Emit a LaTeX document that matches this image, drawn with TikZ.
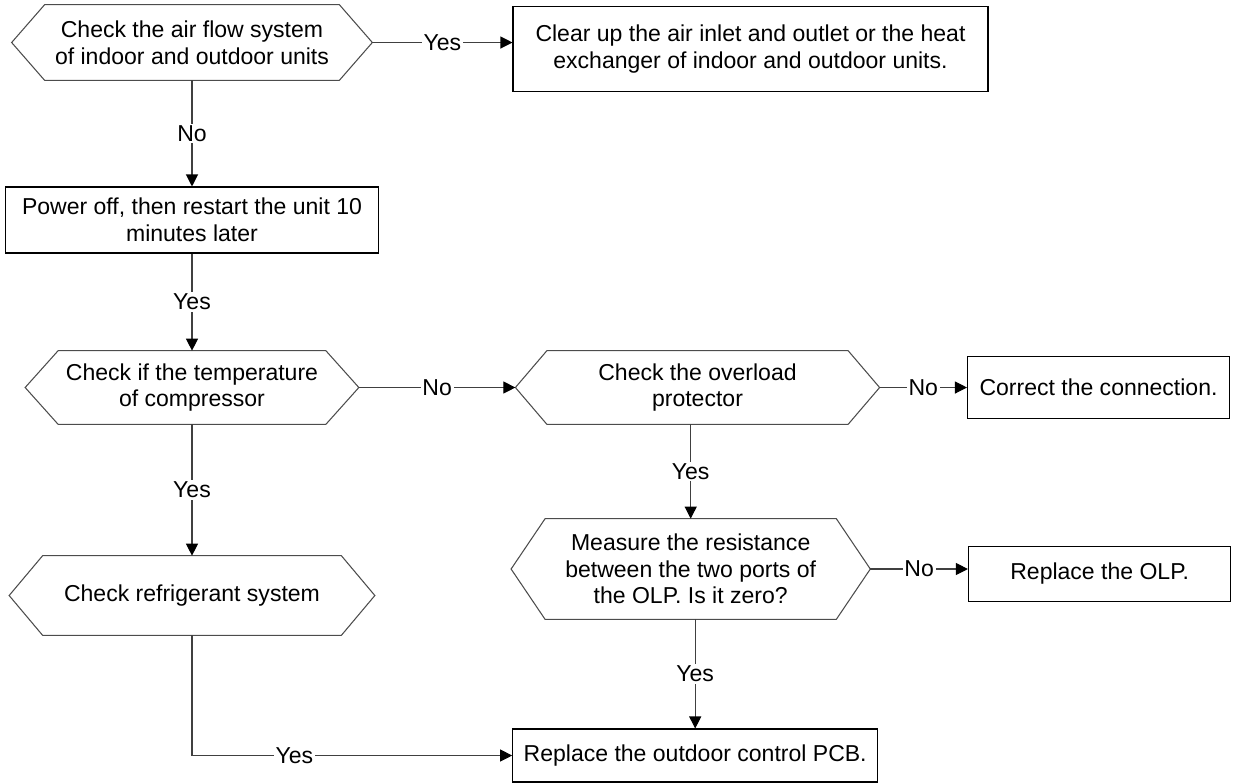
\documentclass[tikz,border=0pt]{standalone}
\usepackage{fontspec}
\setmainfont{Liberation Sans}
\usetikzlibrary{arrows.meta}

\begin{document}
\begin{tikzpicture}[node distance=3.5cm,
    font=\fontsize{13.1}{15.1}\selectfont,
    box/.style={draw=black, line width=0.6pt, align=center, inner sep=2pt},
    check/.style={align=center, inner sep=2pt},
    hexline/.style={draw=black!70, line width=0.6pt, line join=miter},
    flow/.style={draw=black!75, line width=0.6pt,
      -{Triangle[length=0.24cm, width=0.24cm, color=black]}},
    tag/.style={fill=white, inner sep=1pt}]
    \useasboundingbox (-3.84,0.85) rectangle (20.82,-14.81);
    % left column
    \node (airflow) [check, minimum width=7.2cm, minimum height=1.5cm] {Check the air flow system\\of indoor and outdoor units};
    \node (clear) [box, node distance=11.17cm, right of=airflow, yshift=-0.13cm,
      minimum width=9.5cm, minimum height=1.7cm] {Clear up the air inlet and outlet or the heat\\exchanger of indoor and outdoor units.};
    \node (power) [box, node distance=3.55cm, below of=airflow,
      minimum width=7.46cm, minimum height=1.32cm] {Power off, then restart the unit 10\\minutes later};
    \node (temp) [check, node distance=3.35cm, below of=power,
      minimum width=6.66cm, minimum height=1.46cm] {Check if the temperature\\of compressor};
    \node (refrig) [check, node distance=4.16cm, below of=temp,
      minimum width=7.3cm, minimum height=1.58cm] {Check refrigerant system};
    % right part
    \node (overload) [check, node distance=10.11cm, right of=temp,
      minimum width=7.27cm, minimum height=1.46cm] {Check the overload\\protector};
    \node (correct) [box, node distance=8.02cm, right of=overload,
      minimum width=5.24cm, minimum height=1.25cm] {Correct the connection.};
    \node (measure) [check, node distance=3.63cm, below of=overload, xshift=-0.136cm,
      minimum width=7.17cm, minimum height=2cm] {Measure the resistance\\between the two ports of\\the OLP. Is it zero?};
    \node (olp) [box, node distance=8.18cm, right of=measure, yshift=-0.1cm,
      minimum width=5.25cm, minimum height=1.09cm] {Replace the OLP.};
    \node (pcb) [box, node distance=3.73cm, below of=measure, xshift=0.09cm,
      minimum width=7.3cm, minimum height=1.06cm] {Replace the outdoor control PCB.};
    % hexagon outlines of the checks
    \foreach \n/\s in {airflow/0.66, temp/0.66, refrig/0.67, overload/0.63, measure/0.68}
      \draw[hexline] (\n.west) -- ([xshift=\s cm]\n.north west) -- ([xshift=-\s cm]\n.north east)
        -- (\n.east) -- ([xshift=-\s cm]\n.south east) -- ([xshift=\s cm]\n.south west) -- cycle;
    % connectors
    \draw[flow] (airflow.east) -- node[tag] {Yes} (airflow.east -| clear.west);
    \draw[flow] (airflow) -- node[tag] {No} (power);
    \draw[flow] (power) -- node[tag] {Yes} (temp);
    \draw[flow] (temp) -- node[tag] {No} (overload);
    \draw[flow] (temp) -- node[tag] {Yes} (refrig);
    \draw[flow] (overload.east) -- node[tag] {No} (overload.east -| correct.west);
    \draw[flow] (measure.north |- overload.south) -- node[tag] {Yes} (measure.north);
    \draw[flow] (measure.east) -- node[tag] {No} (measure.east -| olp.west);
    \draw[flow] (pcb.north |- measure.south) -- node[tag] {Yes} (pcb.north);
    \draw[flow] (refrig) |- node[tag, pos=0.66] {Yes} (pcb);
\end{tikzpicture}
\end{document}
